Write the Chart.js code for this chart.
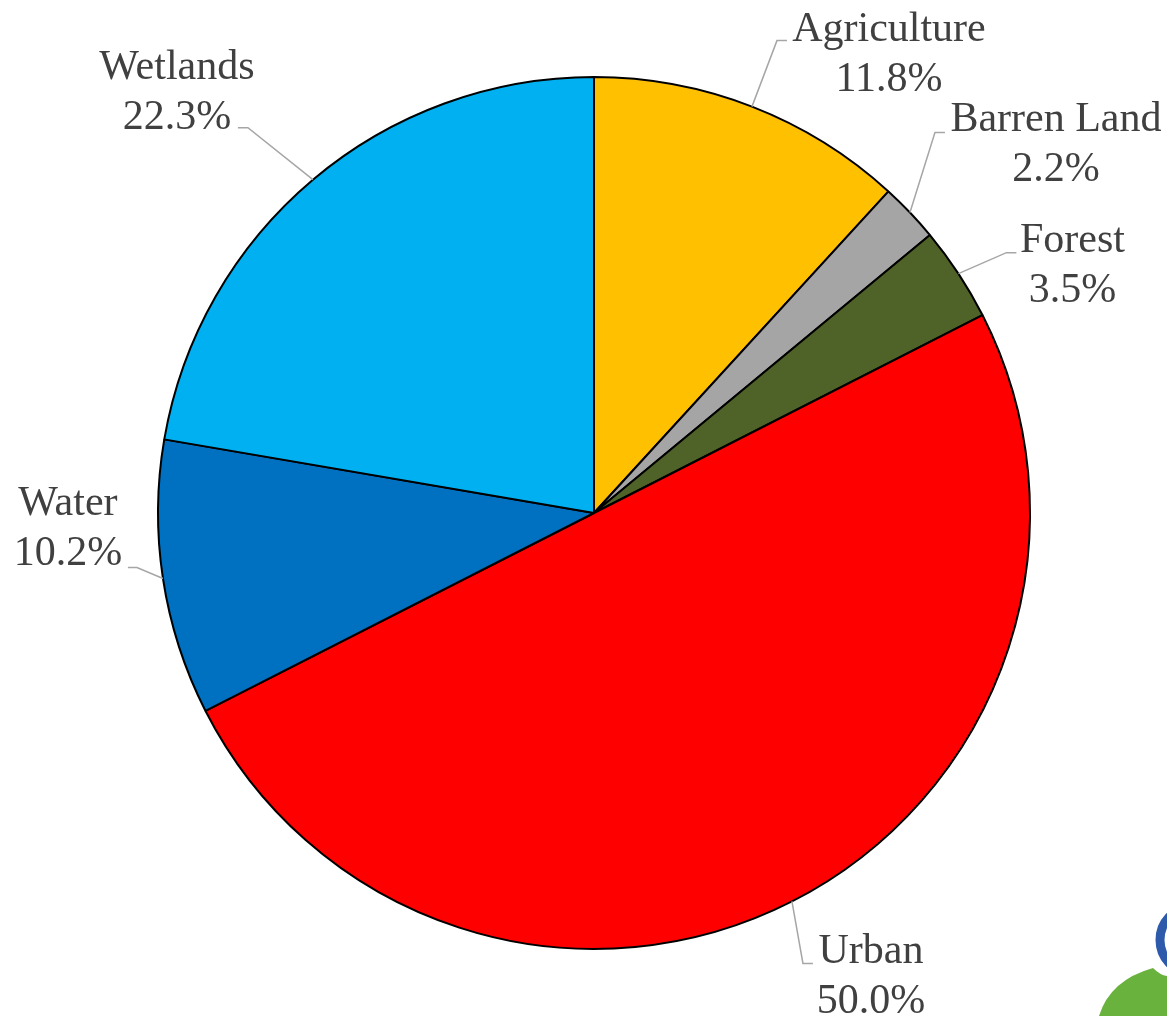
<!DOCTYPE html>
<html>
<head>
<meta charset="utf-8">
<title>Land Use</title>
<script src="https://cdn.jsdelivr.net/npm/chart.js@4.4.1/dist/chart.umd.min.js"></script>
<style>
  html, body { margin: 0; padding: 0; background: #fff; }
  #wrap { width: 1167px; height: 1016px; position: relative; }
</style>
</head>
<body>
<div id="wrap"><canvas id="landChart" width="1167" height="1016"></canvas></div>
<script>
const categories = ['Agriculture', 'Barren Land', 'Forest', 'Urban', 'Water', 'Wetlands'];
const shares = [11.8, 2.2, 3.5, 50.0, 10.2, 22.3];
const sliceColors = ['#FFC000', '#A5A5A5', '#4F6228', '#FF0000', '#0070C0', '#00B0F0'];

// where each label sits, relative to the middle of its slice's outer edge
// elbow = bend of the leader line, hLen = short horizontal bit, text = centre x / first baseline
const labelLayout = [
    { elbow: [25, -66], hLen: 10, text: [137, -66] },
    { elbow: [25, -80], hLen: 10, text: [146, -82] },
    { elbow: [48, -21], hLen: 10, text: [114, -22] },
    { elbow: [11, 62], hLen: 10, text: [79, 62] },
    { elbow: [-26, -11], hLen: -9, text: [-95, -63] },
    { elbow: [-65, -52], hLen: -10, text: [-136, -101] }
];

const labelPlugin = {
    id: 'sliceLabels',
    afterDatasetsDraw(chart) {
        const c = chart.ctx;
        const meta = chart.getDatasetMeta(0);
        c.save();
        meta.data.forEach((arc, i) => {
            const p = arc.getProps(['x', 'y', 'startAngle', 'endAngle', 'outerRadius'], true);
            const mid = (p.startAngle + p.endAngle) / 2;
            const ax = p.x + Math.cos(mid) * p.outerRadius;
            const ay = p.y + Math.sin(mid) * p.outerRadius;
            const lay = labelLayout[i];
            const ex = ax + lay.elbow[0], ey = ay + lay.elbow[1];

            c.strokeStyle = '#A6A6A6';
            c.lineWidth = 1.5;
            c.beginPath();
            c.moveTo(ax, ay);
            c.lineTo(ex, ey);
            c.lineTo(ex + lay.hLen, ey);
            c.stroke();

            c.fillStyle = '#404040';
            c.font = '42px "Liberation Serif", "Times New Roman", serif';
            c.textAlign = 'center';
            c.textBaseline = 'alphabetic';
            const tx = ax + lay.text[0], ty = ay + lay.text[1];
            c.fillText(categories[i], tx, ty);
            c.fillText(shares[i].toFixed(1) + '%', tx, ty + 50);
        });
        c.restore();
    }
};

// bit of a logo peeking in at the bottom right corner
const cornerLogo = {
    id: 'cornerLogo',
    afterDraw(chart) {
        const c = chart.ctx;
        c.save();
        c.strokeStyle = '#2E5AAC';
        c.lineWidth = 9;
        c.beginPath();
        c.ellipse(1190, 940, 30, 32, 0, 0, Math.PI * 2);
        c.stroke();
        c.fillStyle = '#6AB23E';
        c.beginPath();
        c.moveTo(1099, 1016);
        c.quadraticCurveTo(1110, 980, 1153, 968);
        c.quadraticCurveTo(1160, 975, 1167, 976);
        c.lineTo(1167, 1016);
        c.closePath();
        c.fill();
        c.restore();
    }
};

const ctx = document.getElementById('landChart').getContext('2d');
const chart = new Chart(ctx, {
    type: 'pie',
    data: {
        labels: categories,
        datasets: [{
            data: shares,
            backgroundColor: sliceColors,
            borderColor: '#000000',
            borderWidth: 2,
            hoverOffset: 0
        }]
    },
    options: {
        responsive: false,
        animation: false,
        radius: 436,
        layout: { padding: { left: 21, right: 0, top: 10, bottom: 0 } },
        plugins: {
            legend: { display: false },
            tooltip: { enabled: false }
        }
    },
    plugins: [labelPlugin, cornerLogo]
});
</script>
</body>
</html>
